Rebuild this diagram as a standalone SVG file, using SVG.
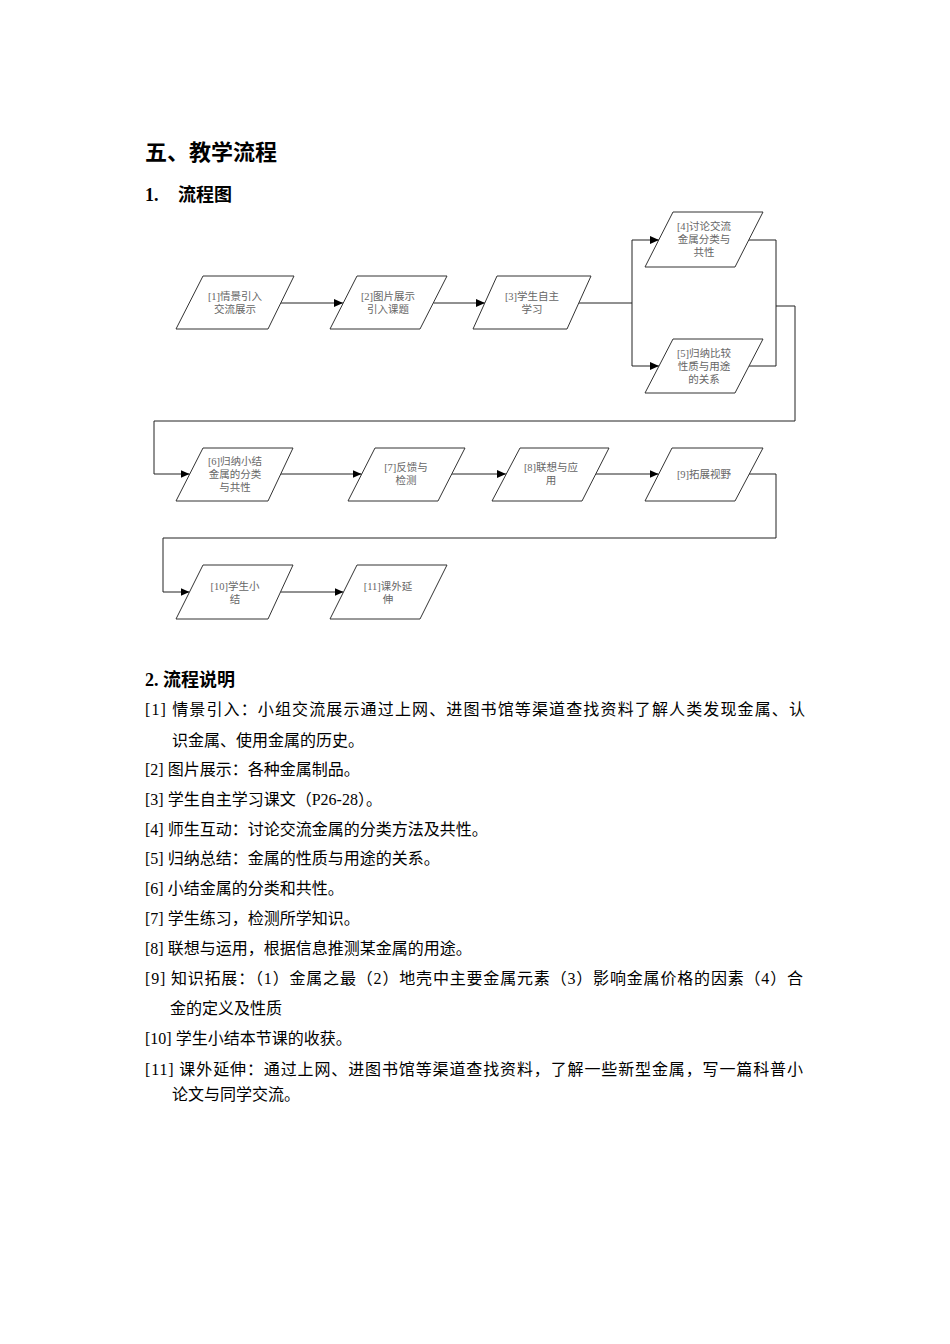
<svg xmlns="http://www.w3.org/2000/svg" width="950" height="1344" viewBox="0 0 950 1344">
<style>
.h1{font-family:"Noto Sans CJK SC","Liberation Sans",sans-serif;font-weight:bold;font-size:22px;fill:#000}
.h2{font-family:"Liberation Serif","Noto Sans CJK SC",serif;font-weight:bold;font-size:18px;fill:#000}
.body{font-family:"Liberation Serif","Noto Sans CJK SC",serif;font-size:16px;fill:#000}
.node polygon{fill:#fff;stroke:#333;stroke-width:1}
.nt{font-family:"Liberation Serif","Noto Sans CJK SC",serif;font-size:10.5px;fill:#666;text-anchor:middle}
.conn path{fill:none;stroke:#222;stroke-width:1}
</style>
<defs>
<marker id="arr" markerUnits="userSpaceOnUse" markerWidth="10" markerHeight="8" refX="9" refY="4" orient="auto">
<path d="M0,0 L9,4 L0,8 z" fill="#000"/>
</marker>
</defs>
<rect width="950" height="1344" fill="#fff"/>

<text class="h1" x="145" y="160">五、教学流程</text>
<text class="h2" x="145" y="201">1.<tspan x="178">流程图</tspan></text>

<g class="conn" id="connectors">
<path d="M281,303 H343" marker-end="url(#arr)"/>
<path d="M433.5,303 H485" marker-end="url(#arr)"/>
<path d="M579,303 H632"/>
<path d="M632,303 V240 H659" marker-end="url(#arr)"/>
<path d="M632,303 V366 H659" marker-end="url(#arr)"/>
<path d="M749,240 H776 V366 H749"/>
<path d="M776,306 H795 V421 H154 V474 H189.5" marker-end="url(#arr)"/>
<path d="M280.5,474 H361.5" marker-end="url(#arr)"/>
<path d="M451.5,474 H506" marker-end="url(#arr)"/>
<path d="M595.5,474 H658.5" marker-end="url(#arr)"/>
<path d="M749,474 H776 V538 H163 V592 H189.5" marker-end="url(#arr)"/>
<path d="M280.5,592 H343.5" marker-end="url(#arr)"/>
</g>

<g class="node" id="n1">
<polygon points="203,276 294,276 268,329 176,329"/>
<text class="nt" x="235" y="300">[1]情景引入</text>
<text class="nt" x="235" y="313">交流展示</text>
</g>
<g class="node" id="n2">
<polygon points="357,276 447,276 420,329 330,329"/>
<text class="nt" x="388" y="300">[2]图片展示</text>
<text class="nt" x="388" y="313">引入课题</text>
</g>
<g class="node" id="n3">
<polygon points="497,276 591,276 567,329 473,329"/>
<text class="nt" x="532" y="300">[3]学生自主</text>
<text class="nt" x="532" y="313">学习</text>
</g>
<g class="node" id="n4">
<polygon points="673,212 763,212 735,267 645,267"/>
<text class="nt" x="704" y="230">[4]讨论交流</text>
<text class="nt" x="704" y="243">金属分类与</text>
<text class="nt" x="704" y="256">共性</text>
</g>
<g class="node" id="n5">
<polygon points="673,339 763,339 735,393 645,393"/>
<text class="nt" x="704" y="357">[5]归纳比较</text>
<text class="nt" x="704" y="370">性质与用途</text>
<text class="nt" x="704" y="383">的关系</text>
</g>
<g class="node" id="n6">
<polygon points="203,448 293,448 268,501 176,501"/>
<text class="nt" x="235" y="465">[6]归纳小结</text>
<text class="nt" x="235" y="478">金属的分类</text>
<text class="nt" x="235" y="491">与共性</text>
</g>
<g class="node" id="n7">
<polygon points="375,448 465,448 438,501 348,501"/>
<text class="nt" x="406" y="471">[7]反馈与</text>
<text class="nt" x="406" y="484">检测</text>
</g>
<g class="node" id="n8">
<polygon points="520,448 609,448 582,501 492,501"/>
<text class="nt" x="551" y="471">[8]联想与应</text>
<text class="nt" x="551" y="484">用</text>
</g>
<g class="node" id="n9">
<polygon points="672,448 763,448 735,501 645,501"/>
<text class="nt" x="704" y="478">[9]拓展视野</text>
</g>
<g class="node" id="n10">
<polygon points="203,565 293,565 268,619 176,619"/>
<text class="nt" x="235" y="590">[10]学生小</text>
<text class="nt" x="235" y="603">结</text>
</g>
<g class="node" id="n11">
<polygon points="357,565 447,565 420,619 330,619"/>
<text class="nt" x="388" y="590">[11]课外延</text>
<text class="nt" x="388" y="603">伸</text>
</g>

<text class="h2" x="145" y="686">2. 流程说明</text>
<g class="body">
<text x="145" y="715" textLength="660" lengthAdjust="spacing">[1]  情景引入：小组交流展示通过上网、进图书馆等渠道查找资料了解人类发现金属、认</text>
<text x="172" y="746">识金属、使用金属的历史。</text>
<text x="145" y="775">[2] 图片展示：各种金属制品。</text>
<text x="145" y="805">[3] 学生自主学习课文（P26-28）。</text>
<text x="145" y="835">[4] 师生互动：讨论交流金属的分类方法及共性。</text>
<text x="145" y="864">[5] 归纳总结：金属的性质与用途的关系。</text>
<text x="145" y="894">[6] 小结金属的分类和共性。</text>
<text x="145" y="924">[7] 学生练习，检测所学知识。</text>
<text x="145" y="954">[8] 联想与运用，根据信息推测某金属的用途。</text>
<text x="145" y="984" textLength="658" lengthAdjust="spacing">[9] 知识拓展：（1）金属之最（2）地壳中主要金属元素（3）影响金属价格的因素（4）合</text>
<text x="170" y="1014">金的定义及性质</text>
<text x="145" y="1044">[10] 学生小结本节课的收获。</text>
<text x="145" y="1075" textLength="658" lengthAdjust="spacing">[11] 课外延伸：通过上网、进图书馆等渠道查找资料，了解一些新型金属，写一篇科普小</text>
<text x="172" y="1100">论文与同学交流。</text>
</g>
</svg>
